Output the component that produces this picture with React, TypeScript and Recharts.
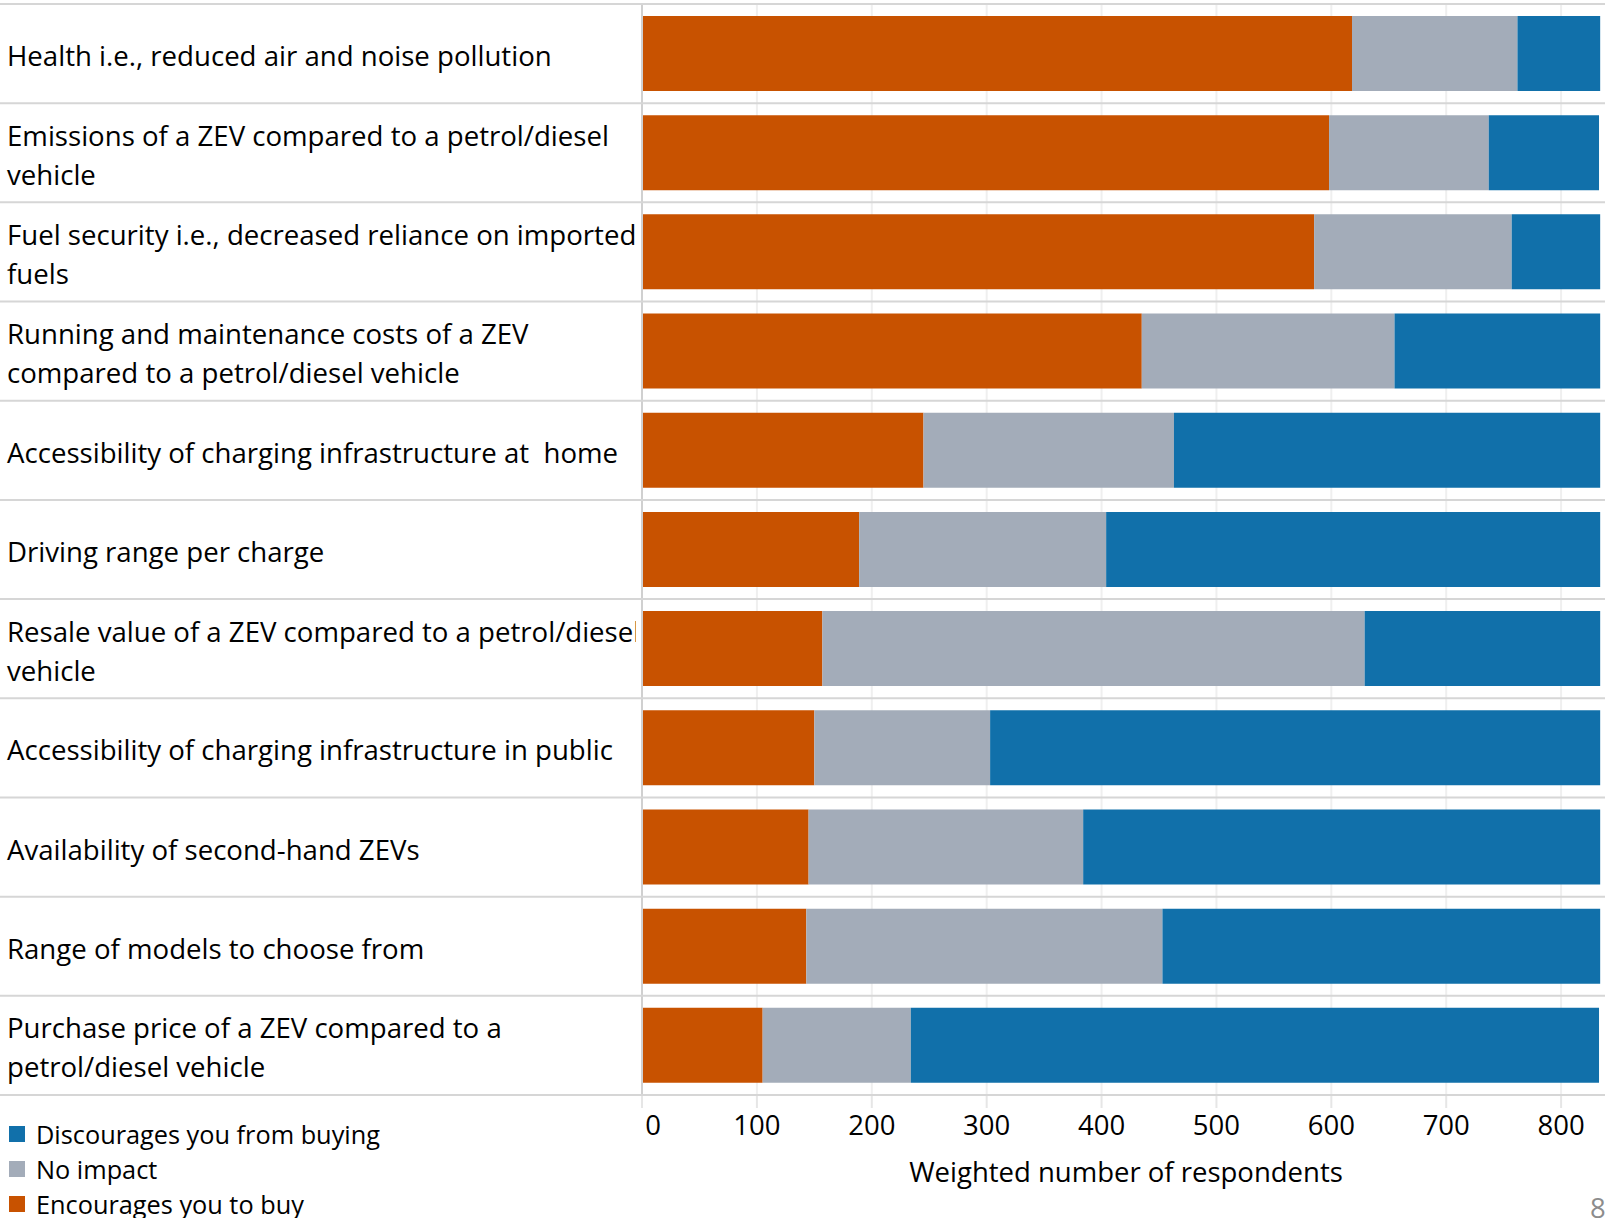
import { BarChart, Bar, XAxis, YAxis, CartesianGrid } from "recharts";

const CATEGORIES = [
  "Health i.e., reduced air and noise pollution",
  "Emissions of a ZEV compared to a petrol/diesel\nvehicle",
  "Fuel security i.e., decreased reliance on imported\nfuels",
  "Running and maintenance costs of a ZEV\ncompared to a petrol/diesel vehicle",
  "Accessibility of charging infrastructure at  home",
  "Driving range per charge",
  "Resale value of a ZEV compared to a petrol/diesel\nvehicle",
  "Accessibility of charging infrastructure in public",
  "Availability of second-hand ZEVs",
  "Range of models to choose from",
  "Purchase price of a ZEV compared to a\npetrol/diesel vehicle",
];

const ENCOURAGES = [618, 598, 585, 435, 245, 189, 157, 150, 145, 143, 105];
const NO_IMPACT = [144, 139, 172, 220, 218, 215, 472, 153, 239, 310, 129];
const DISCOURAGES = [72, 96, 77, 179, 371, 430, 205, 531, 450, 381, 599];

const X_TICKS = [0, 100, 200, 300, 400, 500, 600, 700, 800];

const SERIES = [
  { key: "encourages", name: "Encourages you to buy", color: "#C85200" },
  { key: "noImpact", name: "No impact", color: "#A3ACB9" },
  { key: "discourages", name: "Discourages you from buying", color: "#1170AA" },
];

const data = CATEGORIES.map((name, i) => ({
  name,
  encourages: ENCOURAGES[i],
  noImpact: NO_IMPACT[i],
  discourages: DISCOURAGES[i],
}));

const FONT = "'Open Sans', 'Noto Sans', sans-serif";
const FS = 27.5;
const PLOT_TOP = 4;
const PLOT_BOTTOM = 1095;
const BAND = (PLOT_BOTTOM - PLOT_TOP) / CATEGORIES.length;

// category labels + the row separator lines that run across the whole width
const CategoryTick = (props: any) => {
  const { y, payload, index } = props;
  const lines = String(payload.value).split("\n");
  const top = y - BAND / 2;
  const last = index === CATEGORIES.length - 1;
  return (
    <g>
      <clipPath id={`lbl-${index}`}>
        <rect x={0} y={top} width={636} height={BAND} />
      </clipPath>
      <line x1={0} x2={1700} y1={top} y2={top} stroke="#d6d6d6" strokeWidth={2} />
      {last && (
        <line x1={0} x2={1700} y1={top + BAND} y2={top + BAND} stroke="#d6d6d6" strokeWidth={2} />
      )}
      <text
        clipPath={`url(#lbl-${index})`}
        fontFamily={FONT}
        fontSize={27.6}
        fill="#000"
        style={{ whiteSpace: "pre" }}
      >
        {lines.map((l, i) => (
          <tspan key={i} x={7} y={lines.length === 1 ? y + 12.5 : y - 7 + i * 39}>
            {l}
          </tspan>
        ))}
      </text>
    </g>
  );
};

const ValueTick = (props: any) => {
  const { x, payload } = props;
  return (
    <text
      x={payload.value === 0 ? x + 11 : x}
      y={PLOT_BOTTOM + 40}
      textAnchor="middle"
      fontFamily={FONT}
      fontSize={FS}
      fill="#000"
    >
      {payload.value}
    </text>
  );
};

const AxisTitle = (props: any) => {
  const { viewBox } = props;
  return (
    <text
      x={viewBox.x + 484}
      y={PLOT_BOTTOM + 87}
      textAnchor="middle"
      fontFamily={FONT}
      fontSize={FS}
      fill="#000"
    >
      Weighted number of respondents
    </text>
  );
};

const LegendBox = () => (
  <div
    style={{
      position: "absolute",
      left: 0,
      top: 1116,
      fontFamily: FONT,
      fontSize: 25.3,
      color: "#000",
    }}
  >
    {[...SERIES].reverse().map((s) => (
      <div key={s.key} style={{ display: "flex", alignItems: "center", height: 35 }}>
        <span
          style={{ display: "inline-block", width: 16, height: 16, background: s.color, marginLeft: 9, marginRight: 11 }}
        />
        <span>{s.name}</span>
      </div>
    ))}
  </div>
);

export default function App() {
  return (
    <div
      style={{
        position: "absolute",
        left: 0,
        top: 0,
        width: 1605,
        height: 1218,
        overflow: "hidden",
        background: "#fff",
        fontFamily: FONT,
      }}
    >
      <BarChart
        width={1700}
        height={1218}
        data={data}
        layout="vertical"
        barSize={75}
        margin={{ top: PLOT_TOP, right: 24, left: 0, bottom: 0 }}
      >
        <CartesianGrid horizontal={false} stroke="#efefef" strokeWidth={2} />
        <XAxis
          type="number"
          domain={[0, 900]}
          ticks={X_TICKS}
          interval={0}
          height={123}
          axisLine={false}
          tickSize={13}
          tickLine={{ stroke: "#e6e6e6", strokeWidth: 2 }}
          tick={<ValueTick />}
          label={<AxisTitle />}
        />
        <YAxis
          type="category"
          dataKey="name"
          width={642}
          interval={0}
          tickLine={false}
          axisLine={{ stroke: "#d0d0d0", strokeWidth: 2 }}
          tick={<CategoryTick />}
        />
        {SERIES.map((s) => (
          <Bar key={s.key} dataKey={s.key} name={s.name} stackId="a" fill={s.color} isAnimationActive={false} />
        ))}
      </BarChart>
      <LegendBox />
      <div
        style={{
          position: "absolute",
          left: 1590,
          top: 1190,
          fontSize: FS,
          color: "#8c8c8c",
          lineHeight: "36px",
        }}
      >
        8
      </div>
    </div>
  );
}
